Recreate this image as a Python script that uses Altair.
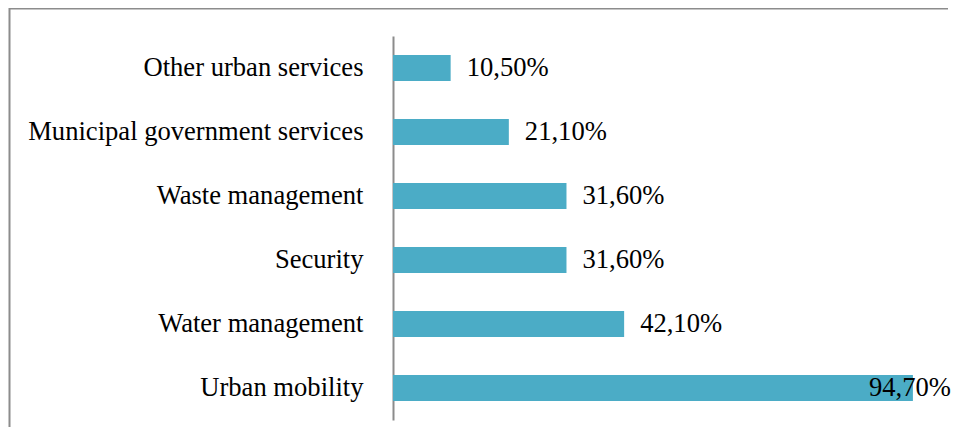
import altair as alt
import pandas as pd

categories = [
    "Other urban services",
    "Municipal government services",
    "Waste management",
    "Security",
    "Water management",
    "Urban mobility",
]
values = [10.5, 21.1, 31.6, 31.6, 42.1, 94.7]

df = pd.DataFrame({"category": categories, "value": values})

FONT = "Liberation Serif"
FS = 26.6
BAR = "#4BACC6"

base = alt.Chart(df)

y_enc = alt.Y(
    "category:N",
    sort=categories,
    scale=alt.Scale(paddingInner=0.594, paddingOuter=0.297),
    axis=alt.Axis(
        title=None,
        ticks=False,
        grid=False,
        domain=True,
        domainColor="#8c8c8c",
        domainWidth=2,
        labelFont=FONT,
        labelFontSize=FS,
        labelColor="#000000",
        labelPadding=30,
        labelLimit=500,
    ),
)
x_enc = alt.X("value:Q", scale=alt.Scale(domain=[0, 100]), axis=None)

bars = base.mark_bar(color=BAR).encode(x=x_enc, y=y_enc)

label_expr = "replace(format(datum.value, '.2f'), '.', ',') + '%'"

labels = (
    base.transform_filter("datum.value < 90")
    .transform_calculate(lbl=label_expr)
    .mark_text(align="left", baseline="middle", dx=16, font=FONT, fontSize=FS, color="#000000")
    .encode(x=x_enc, y=alt.Y("category:N", sort=categories), text="lbl:N")
)

labels_big = (
    base.transform_filter("datum.value >= 90")
    .transform_calculate(lbl=label_expr)
    .mark_text(align="right", baseline="middle", dx=38, font=FONT, fontSize=FS, color="#000000")
    .encode(x=x_enc, y=alt.Y("category:N", sort=categories), text="lbl:N")
)

one = pd.DataFrame({"f": [0]})
frame_top = (
    alt.Chart(one)
    .mark_rule(stroke="#8c8c8c", strokeWidth=2, clip=False)
    .encode(x=alt.value(-384), x2=alt.value(555), y=alt.value(-27.5))
)
frame_left = (
    alt.Chart(one)
    .mark_rule(stroke="#8c8c8c", strokeWidth=2, clip=False)
    .encode(x=alt.value(-383.5), y=alt.value(-28), y2=alt.value(391))
)

chart = (
    alt.layer(frame_top, frame_left, bars, labels, labels_big)
    .properties(
        width=549,
        height=384,
        view=alt.ViewBackground(strokeWidth=0, strokeOpacity=0),
        autosize=alt.AutoSizeParams(type="none"),
        padding={"left": 385, "top": 28, "right": 10, "bottom": 7},
    )
    .configure_view(strokeWidth=0, strokeOpacity=0)
    .configure(background="#ffffff")
)

chart.save("out.html", embed_options={"renderer": "svg", "actions": False})
